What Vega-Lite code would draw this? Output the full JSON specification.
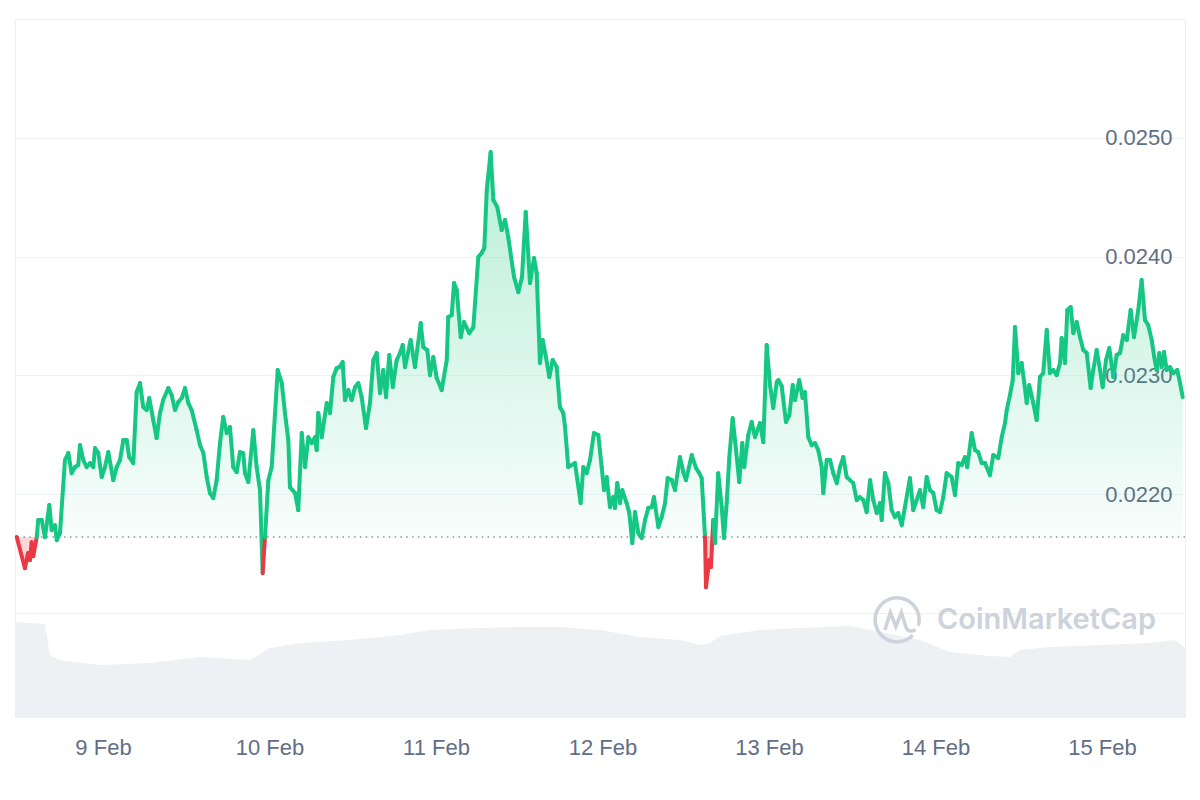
{
  "$schema": "https://vega.github.io/schema/vega-lite/v6.json",
  "width": 1170,
  "height": 698,
  "autosize": "none",
  "padding": {"left": 15, "top": 19, "right": 15, "bottom": 83},
  "background": "white",
  "config": {
    "view": {"stroke": "#eceff3", "strokeWidth": 1},
    "axis": {"labelFont": "Liberation Sans", "labelColor": "#616e85", "labelFontSize": 22, "title": null},
    "axisX": {"format": "%-d %b", "tickCount": {"interval": "day", "step": 1}, "grid": false, "ticks": false, "domain": false, "labelPadding": 20, "labelFlush": false}
  },
  "datasets": {
    "price": [
      {"t":"2024-02-08T11:34","p":0.02164},{"t":"2024-02-08T12:45","p":0.021377},{"t":"2024-02-08T13:11","p":0.021504},{"t":"2024-02-08T13:29","p":0.021445},{"t":"2024-02-08T13:43","p":0.021596},{"t":"2024-02-08T13:57","p":0.021478},{"t":"2024-02-08T14:27","p":0.021638},{"t":"2024-02-08T14:40","p":0.021782},{"t":"2024-02-08T15:10","p":0.021782},{"t":"2024-02-08T15:38","p":0.021638},{"t":"2024-02-08T16:16","p":0.021908},{"t":"2024-02-08T16:36","p":0.021697},{"t":"2024-02-08T17:05","p":0.021739},{"t":"2024-02-08T17:20","p":0.021613},{"t":"2024-02-08T17:48","p":0.021672},{"t":"2024-02-08T18:31","p":0.022287},{"t":"2024-02-08T19:00","p":0.022346},{"t":"2024-02-08T19:29","p":0.022177},{"t":"2024-02-08T19:58","p":0.022228},{"t":"2024-02-08T20:26","p":0.022245},{"t":"2024-02-08T20:41","p":0.022413},{"t":"2024-02-08T21:10","p":0.022287},{"t":"2024-02-08T21:39","p":0.022228},{"t":"2024-02-08T22:08","p":0.022262},{"t":"2024-02-08T22:36","p":0.022228},{"t":"2024-02-08T22:51","p":0.022388},{"t":"2024-02-08T23:19","p":0.022346},{"t":"2024-02-08T23:49","p":0.022144},
      {"t":"2024-02-09T00:17","p":0.022228},{"t":"2024-02-09T00:46","p":0.022354},{"t":"2024-02-09T01:29","p":0.022118},{"t":"2024-02-09T01:58","p":0.022228},{"t":"2024-02-09T02:27","p":0.022287},{"t":"2024-02-09T02:56","p":0.022455},{"t":"2024-02-09T03:25","p":0.022455},{"t":"2024-02-09T03:47","p":0.022312},{"t":"2024-02-09T04:22","p":0.022262},{"t":"2024-02-09T04:51","p":0.022859},{"t":"2024-02-09T05:20","p":0.022935},{"t":"2024-02-09T05:48","p":0.022733},{"t":"2024-02-09T06:18","p":0.022708},{"t":"2024-02-09T06:40","p":0.022809},{"t":"2024-02-09T07:15","p":0.022624},{"t":"2024-02-09T07:44","p":0.022472},{"t":"2024-02-09T08:13","p":0.022683},{"t":"2024-02-09T08:41","p":0.022792},{"t":"2024-02-09T09:25","p":0.022893},{"t":"2024-02-09T09:54","p":0.022834},{"t":"2024-02-09T10:23","p":0.022708},{"t":"2024-02-09T10:51","p":0.022775},{"t":"2024-02-09T11:21","p":0.022809},{"t":"2024-02-09T11:49","p":0.022893},{"t":"2024-02-09T12:18","p":0.022767},{"t":"2024-02-09T12:47","p":0.022708},{"t":"2024-02-09T13:30","p":0.022539},{"t":"2024-02-09T13:59","p":0.022413},{"t":"2024-02-09T14:28","p":0.022346},{"t":"2024-02-09T14:57","p":0.022144},{"t":"2024-02-09T15:25","p":0.022009},{"t":"2024-02-09T15:54","p":0.021967},{"t":"2024-02-09T16:23","p":0.022118},{"t":"2024-02-09T16:52","p":0.02243},{"t":"2024-02-09T17:20","p":0.022649},{"t":"2024-02-09T17:50","p":0.022514},{"t":"2024-02-09T18:18","p":0.022565},{"t":"2024-02-09T18:47","p":0.022228},{"t":"2024-02-09T19:16","p":0.022186},{"t":"2024-02-09T19:45","p":0.022354},{"t":"2024-02-09T20:13","p":0.022346},{"t":"2024-02-09T20:28","p":0.022177},{"t":"2024-02-09T20:57","p":0.022102},{"t":"2024-02-09T21:40","p":0.022539},{"t":"2024-02-09T22:09","p":0.022228},{"t":"2024-02-09T22:38","p":0.022034},{"t":"2024-02-09T23:01","p":0.021335},{"t":"2024-02-09T23:21","p":0.021638},{"t":"2024-02-09T23:50","p":0.022118},
      {"t":"2024-02-10T00:19","p":0.022228},{"t":"2024-02-10T01:11","p":0.023045},{"t":"2024-02-10T01:46","p":0.022935},{"t":"2024-02-10T02:14","p":0.022683},{"t":"2024-02-10T02:43","p":0.022455},{"t":"2024-02-10T02:57","p":0.022059},{"t":"2024-02-10T03:41","p":0.022009},{"t":"2024-02-10T04:09","p":0.021866},{"t":"2024-02-10T04:39","p":0.022514},{"t":"2024-02-10T05:07","p":0.022228},{"t":"2024-02-10T05:36","p":0.02248},{"t":"2024-02-10T06:05","p":0.02243},{"t":"2024-02-10T06:34","p":0.02248},{"t":"2024-02-10T06:48","p":0.022371},{"t":"2024-02-10T07:02","p":0.022683},{"t":"2024-02-10T07:32","p":0.02248},{"t":"2024-02-10T08:15","p":0.022767},{"t":"2024-02-10T08:43","p":0.022683},{"t":"2024-02-10T09:12","p":0.022986},{"t":"2024-02-10T09:41","p":0.023061},{"t":"2024-02-10T10:04","p":0.02307},{"t":"2024-02-10T10:33","p":0.023112},{"t":"2024-02-10T10:53","p":0.022792},{"t":"2024-02-10T11:22","p":0.022876},{"t":"2024-02-10T11:51","p":0.022792},{"t":"2024-02-10T12:20","p":0.022901},{"t":"2024-02-10T12:48","p":0.022935},{"t":"2024-02-10T13:17","p":0.022817},{"t":"2024-02-10T13:55","p":0.022556},{"t":"2024-02-10T14:29","p":0.022767},{"t":"2024-02-10T14:58","p":0.023129},{"t":"2024-02-10T15:27","p":0.023188},{"t":"2024-02-10T15:56","p":0.022851},{"t":"2024-02-10T16:24","p":0.023045},{"t":"2024-02-10T16:48","p":0.022817},{"t":"2024-02-10T17:16","p":0.023171},{"t":"2024-02-10T17:46","p":0.022901},{"t":"2024-02-10T18:20","p":0.023129},{"t":"2024-02-10T18:49","p":0.023188},{"t":"2024-02-10T19:12","p":0.023255},{"t":"2024-02-10T19:32","p":0.02307},{"t":"2024-02-10T20:21","p":0.023297},{"t":"2024-02-10T20:58","p":0.02307},{"t":"2024-02-10T21:48","p":0.02344},{"t":"2024-02-10T22:10","p":0.023238},{"t":"2024-02-10T22:45","p":0.023213},{"t":"2024-02-10T23:08","p":0.023002},{"t":"2024-02-10T23:37","p":0.023154},
      {"t":"2024-02-11T00:06","p":0.022977},{"t":"2024-02-11T00:49","p":0.022876},{"t":"2024-02-11T01:33","p":0.023129},{"t":"2024-02-11T01:46","p":0.023491},{"t":"2024-02-11T02:16","p":0.023508},{"t":"2024-02-11T02:36","p":0.023777},{"t":"2024-02-11T02:59","p":0.023718},{"t":"2024-02-11T03:34","p":0.023322},{"t":"2024-02-11T04:02","p":0.023449},{"t":"2024-02-11T04:48","p":0.023356},{"t":"2024-02-11T05:23","p":0.023407},{"t":"2024-02-11T06:06","p":0.023996},{"t":"2024-02-11T06:35","p":0.02403},{"t":"2024-02-11T06:58","p":0.024072},{"t":"2024-02-11T07:19","p":0.02456},{"t":"2024-02-11T07:53","p":0.02488},{"t":"2024-02-11T08:16","p":0.024476},{"t":"2024-02-11T08:50","p":0.024417},{"t":"2024-02-11T09:28","p":0.024223},{"t":"2024-02-11T09:57","p":0.024308},{"t":"2024-02-11T10:25","p":0.024164},{"t":"2024-02-11T11:15","p":0.023828},{"t":"2024-02-11T11:52","p":0.023701},{"t":"2024-02-11T12:24","p":0.023828},{"t":"2024-02-11T12:56","p":0.024375},{"t":"2024-02-11T13:33","p":0.023777},{"t":"2024-02-11T14:08","p":0.023988},{"t":"2024-02-11T14:31","p":0.023861},{"t":"2024-02-11T14:59","p":0.023104},{"t":"2024-02-11T15:23","p":0.023297},{"t":"2024-02-11T15:51","p":0.023154},{"t":"2024-02-11T16:20","p":0.022986},{"t":"2024-02-11T16:49","p":0.023129},{"t":"2024-02-11T17:24","p":0.02307},{"t":"2024-02-11T17:52","p":0.022733},{"t":"2024-02-11T18:21","p":0.022683},{"t":"2024-02-11T18:36","p":0.022565},{"t":"2024-02-11T19:04","p":0.022228},{"t":"2024-02-11T20:02","p":0.022262},{"t":"2024-02-11T20:51","p":0.021925},{"t":"2024-02-11T21:14","p":0.022228},{"t":"2024-02-11T21:43","p":0.022177},{"t":"2024-02-11T22:12","p":0.022287},{"t":"2024-02-11T22:46","p":0.022514},{"t":"2024-02-11T23:24","p":0.022497},{"t":"2024-02-11T23:53","p":0.022228},
      {"t":"2024-02-12T00:13","p":0.022034},{"t":"2024-02-12T00:36","p":0.022144},{"t":"2024-02-12T01:05","p":0.021891},{"t":"2024-02-12T01:33","p":0.021975},{"t":"2024-02-12T01:48","p":0.021883},{"t":"2024-02-12T02:08","p":0.022093},{"t":"2024-02-12T02:31","p":0.021925},{"t":"2024-02-12T02:51","p":0.022034},{"t":"2024-02-12T03:29","p":0.021925},{"t":"2024-02-12T03:52","p":0.021841},{"t":"2024-02-12T04:18","p":0.021588},{"t":"2024-02-12T04:41","p":0.021849},{"t":"2024-02-12T05:10","p":0.021672},{"t":"2024-02-12T05:39","p":0.02163},{"t":"2024-02-12T06:08","p":0.021782},{"t":"2024-02-12T06:36","p":0.021883},{"t":"2024-02-12T07:06","p":0.021891},{"t":"2024-02-12T07:25","p":0.021975},{"t":"2024-02-12T08:03","p":0.021723},{"t":"2024-02-12T08:32","p":0.021807},{"t":"2024-02-12T09:01","p":0.021925},{"t":"2024-02-12T09:24","p":0.022135},{"t":"2024-02-12T09:59","p":0.022118},{"t":"2024-02-12T10:27","p":0.022034},{"t":"2024-02-12T11:10","p":0.022312},{"t":"2024-02-12T11:39","p":0.022186},{"t":"2024-02-12T12:02","p":0.022118},{"t":"2024-02-12T12:52","p":0.022329},{"t":"2024-02-12T13:29","p":0.022219},{"t":"2024-02-12T13:57","p":0.022177},{"t":"2024-02-12T14:18","p":0.022135},{"t":"2024-02-12T14:47","p":0.021638},{"t":"2024-02-12T14:55","p":0.021217},{"t":"2024-02-12T15:24","p":0.021445},{"t":"2024-02-12T15:38","p":0.021386},{"t":"2024-02-12T15:58","p":0.021782},{"t":"2024-02-12T16:13","p":0.021588},{"t":"2024-02-12T16:41","p":0.022177},{"t":"2024-02-12T17:11","p":0.021891},{"t":"2024-02-12T17:31","p":0.02163},{"t":"2024-02-12T17:54","p":0.021925},{"t":"2024-02-12T18:17","p":0.022312},{"t":"2024-02-12T18:46","p":0.02264},{"t":"2024-02-12T19:15","p":0.022371},{"t":"2024-02-12T19:43","p":0.022102},{"t":"2024-02-12T20:09","p":0.02243},{"t":"2024-02-12T20:26","p":0.022228},{"t":"2024-02-12T21:01","p":0.022497},{"t":"2024-02-12T21:30","p":0.022607},{"t":"2024-02-12T21:59","p":0.02248},{"t":"2024-02-12T22:42","p":0.022598},{"t":"2024-02-12T23:11","p":0.022438},{"t":"2024-02-12T23:40","p":0.023255},
      {"t":"2024-02-13T00:09","p":0.022918},{"t":"2024-02-13T00:37","p":0.022725},{"t":"2024-02-13T01:07","p":0.022944},{"t":"2024-02-13T01:20","p":0.02296},{"t":"2024-02-13T01:50","p":0.02291},{"t":"2024-02-13T02:27","p":0.022607},{"t":"2024-02-13T02:56","p":0.022666},{"t":"2024-02-13T03:25","p":0.022918},{"t":"2024-02-13T03:45","p":0.022792},{"t":"2024-02-13T04:22","p":0.02296},{"t":"2024-02-13T04:51","p":0.022809},{"t":"2024-02-13T05:11","p":0.022859},{"t":"2024-02-13T05:40","p":0.02248},{"t":"2024-02-13T06:09","p":0.022413},{"t":"2024-02-13T06:38","p":0.02243},{"t":"2024-02-13T07:06","p":0.022371},{"t":"2024-02-13T07:36","p":0.022228},{"t":"2024-02-13T07:50","p":0.022009},{"t":"2024-02-13T08:19","p":0.022287},{"t":"2024-02-13T08:48","p":0.022287},{"t":"2024-02-13T09:16","p":0.022177},{"t":"2024-02-13T09:46","p":0.022093},{"t":"2024-02-13T10:14","p":0.022228},{"t":"2024-02-13T10:43","p":0.022312},{"t":"2024-02-13T11:12","p":0.022144},{"t":"2024-02-13T11:41","p":0.022118},{"t":"2024-02-13T12:09","p":0.022093},{"t":"2024-02-13T12:39","p":0.02195},{"t":"2024-02-13T13:07","p":0.021975},{"t":"2024-02-13T13:36","p":0.02195},{"t":"2024-02-13T14:05","p":0.021849},{"t":"2024-02-13T14:34","p":0.022118},{"t":"2024-02-13T15:02","p":0.02195},{"t":"2024-02-13T15:32","p":0.021841},{"t":"2024-02-13T16:00","p":0.021925},{"t":"2024-02-13T16:15","p":0.021782},{"t":"2024-02-13T16:43","p":0.022177},{"t":"2024-02-13T17:12","p":0.022093},{"t":"2024-02-13T17:41","p":0.021866},{"t":"2024-02-13T18:10","p":0.021807},{"t":"2024-02-13T18:38","p":0.021841},{"t":"2024-02-13T19:08","p":0.021739},{"t":"2024-02-13T19:36","p":0.021891},{"t":"2024-02-13T20:19","p":0.022135},{"t":"2024-02-13T20:48","p":0.021866},{"t":"2024-02-13T21:17","p":0.02195},{"t":"2024-02-13T21:46","p":0.022034},{"t":"2024-02-13T22:14","p":0.021891},{"t":"2024-02-13T22:44","p":0.022144},{"t":"2024-02-13T23:12","p":0.022034},{"t":"2024-02-13T23:41","p":0.022009},
      {"t":"2024-02-14T00:10","p":0.021866},{"t":"2024-02-14T00:39","p":0.021849},{"t":"2024-02-14T01:07","p":0.021975},{"t":"2024-02-14T01:37","p":0.022177},{"t":"2024-02-14T02:20","p":0.022144},{"t":"2024-02-14T02:49","p":0.021992},{"t":"2024-02-14T03:17","p":0.022262},{"t":"2024-02-14T03:47","p":0.022245},{"t":"2024-02-14T04:15","p":0.022312},{"t":"2024-02-14T04:35","p":0.022228},{"t":"2024-02-14T05:13","p":0.022514},{"t":"2024-02-14T05:42","p":0.022371},{"t":"2024-02-14T06:10","p":0.022354},{"t":"2024-02-14T06:40","p":0.022262},{"t":"2024-02-14T07:08","p":0.022262},{"t":"2024-02-14T07:51","p":0.02216},{"t":"2024-02-14T08:20","p":0.022329},{"t":"2024-02-14T09:03","p":0.022304},{"t":"2024-02-14T09:33","p":0.02248},{"t":"2024-02-14T10:01","p":0.022598},{"t":"2024-02-14T10:16","p":0.022708},{"t":"2024-02-14T10:44","p":0.022834},{"t":"2024-02-14T11:08","p":0.02296},{"t":"2024-02-14T11:28","p":0.023407},{"t":"2024-02-14T11:56","p":0.023019},{"t":"2024-02-14T12:25","p":0.023104},{"t":"2024-02-14T12:48","p":0.022935},{"t":"2024-02-14T13:09","p":0.022767},{"t":"2024-02-14T13:31","p":0.022918},{"t":"2024-02-14T14:06","p":0.022767},{"t":"2024-02-14T14:35","p":0.022624},{"t":"2024-02-14T15:04","p":0.022986},{"t":"2024-02-14T15:32","p":0.023019},{"t":"2024-02-14T16:02","p":0.023381},{"t":"2024-02-14T16:30","p":0.023019},{"t":"2024-02-14T16:59","p":0.023045},{"t":"2024-02-14T17:28","p":0.023002},{"t":"2024-02-14T17:57","p":0.023104},{"t":"2024-02-14T18:11","p":0.023314},{"t":"2024-02-14T18:40","p":0.023104},{"t":"2024-02-14T19:00","p":0.02355},{"t":"2024-02-14T19:29","p":0.023575},{"t":"2024-02-14T19:52","p":0.023356},{"t":"2024-02-14T20:21","p":0.023449},{"t":"2024-02-14T20:50","p":0.023322},{"t":"2024-02-14T21:18","p":0.023213},{"t":"2024-02-14T21:48","p":0.023188},{"t":"2024-02-14T22:22","p":0.022893},{"t":"2024-02-14T22:45","p":0.023045},{"t":"2024-02-14T23:14","p":0.023213},{"t":"2024-02-14T23:43","p":0.023045},
      {"t":"2024-02-15T00:06","p":0.022901},{"t":"2024-02-15T00:35","p":0.023129},{"t":"2024-02-15T01:03","p":0.02323},{"t":"2024-02-15T01:38","p":0.022986},{"t":"2024-02-15T02:07","p":0.023171},{"t":"2024-02-15T02:36","p":0.023188},{"t":"2024-02-15T03:04","p":0.023339},{"t":"2024-02-15T03:34","p":0.023297},{"t":"2024-02-15T04:08","p":0.02355},{"t":"2024-02-15T04:37","p":0.023322},{"t":"2024-02-15T05:14","p":0.02355},{"t":"2024-02-15T05:43","p":0.023802},{"t":"2024-02-15T06:12","p":0.023466},{"t":"2024-02-15T06:40","p":0.023423},{"t":"2024-02-15T07:10","p":0.023297},{"t":"2024-02-15T07:32","p":0.023154},{"t":"2024-02-15T07:53","p":0.023045},{"t":"2024-02-15T08:16","p":0.023188},{"t":"2024-02-15T08:36","p":0.02307},{"t":"2024-02-15T08:56","p":0.023196},{"t":"2024-02-15T09:20","p":0.023045},{"t":"2024-02-15T09:48","p":0.02307},{"t":"2024-02-15T10:17","p":0.023019},{"t":"2024-02-15T10:51","p":0.023045},{"t":"2024-02-15T11:15","p":0.022935},{"t":"2024-02-15T11:38","p":0.022817}
    ],
    "vol": [
      {"t":"2024-02-08T11:19","v":95},{"t":"2024-02-08T15:38","v":93},{"t":"2024-02-08T16:22","v":62},{"t":"2024-02-08T17:48","v":57},{"t":"2024-02-08T23:34","v":52},{"t":"2024-02-09T06:46","v":54},{"t":"2024-02-09T13:59","v":60},{"t":"2024-02-09T21:11","v":57},{"t":"2024-02-10T00:04","v":69},{"t":"2024-02-10T04:24","v":74},{"t":"2024-02-10T11:36","v":77},{"t":"2024-02-10T18:49","v":82},{"t":"2024-02-10T23:08","v":87},{"t":"2024-02-11T06:20","v":89},{"t":"2024-02-11T12:06","v":90},{"t":"2024-02-11T17:52","v":90},{"t":"2024-02-11T23:38","v":87},{"t":"2024-02-12T05:24","v":80},{"t":"2024-02-12T11:10","v":77},{"t":"2024-02-12T14:03","v":72},{"t":"2024-02-12T15:30","v":74},{"t":"2024-02-12T16:56","v":81},{"t":"2024-02-12T22:42","v":87},{"t":"2024-02-13T04:28","v":89},{"t":"2024-02-13T11:41","v":91},{"t":"2024-02-13T16:00","v":85},{"t":"2024-02-13T21:46","v":77},{"t":"2024-02-14T02:05","v":65},{"t":"2024-02-14T07:51","v":61},{"t":"2024-02-14T10:44","v":60},{"t":"2024-02-14T12:11","v":67},{"t":"2024-02-14T16:30","v":70},{"t":"2024-02-14T23:43","v":72},{"t":"2024-02-15T06:55","v":74},{"t":"2024-02-15T10:31","v":77},{"t":"2024-02-15T11:58","v":69}
    ]
  },
  "layer": [
    {
      "data": {"name": "vol"},
      "mark": {"type": "area", "color": "#eef0f4", "interpolate": "linear"},
      "encoding": {
        "x": {"field": "t", "type": "temporal", "title": null, "scale": {"domain": [{"year": 2024, "month": 2, "date": 8, "hours": 11, "minutes": 19}, {"year": 2024, "month": 2, "date": 15, "hours": 11, "minutes": 58}]}},
        "y": {"field": "v", "type": "quantitative", "scale": {"domain": [0, 100], "range": [698, 598]}, "axis": null}
      }
    },
    {
      "data": {"name": "price"},
      "mark": {
        "type": "area",
        "fill": {"gradient": "linear", "x1": 0, "y1": 0, "x2": 0, "y2": 1, "stops": [{"offset": 0, "color": "rgba(22,199,132,0.30)"}, {"offset": 1, "color": "rgba(22,199,132,0.03)"}]}
      },
      "encoding": {
        "x": {"field": "t", "type": "temporal", "title": null},
        "y": {"field": "p", "type": "quantitative", "scale": {"domain": [0.02164, 0.026], "range": [517.9, 0], "clamp": true, "zero": false, "nice": false}, "axis": null},
        "y2": {"datum": 0.02164}
      }
    },
    {
      "data": {"name": "price"},
      "mark": {"type": "area", "color": "#ea3943", "opacity": 0.2},
      "encoding": {
        "x": {"field": "t", "type": "temporal", "title": null},
        "y": {"field": "p", "type": "quantitative", "scale": {"domain": [0.020124, 0.02164], "range": [698, 517.9], "clamp": true, "zero": false, "nice": false}, "axis": null},
        "y2": {"datum": 0.02164}
      }
    },
    {
      "data": {"values": [{}]},
      "mark": {"type": "rule", "color": "#8f959e", "strokeWidth": 1.5, "strokeDash": [1.5, 4.3]},
      "encoding": {
        "y": {"datum": 0.02164, "type": "quantitative", "scale": {"domain": [0.020124, 0.026], "zero": false, "nice": false}, "axis": null}
      }
    },
    {
      "data": {"name": "price"},
      "transform": [
        {"window": [{"op": "lead", "field": "t", "as": "t2"}, {"op": "lead", "field": "p", "as": "p2"}], "sort": [{"field": "t", "order": "ascending"}]},
        {"filter": "datum.t2 != null"}
      ],
      "mark": {"type": "rule", "strokeWidth": 4, "strokeCap": "round"},
      "encoding": {
        "x": {"field": "t", "type": "temporal", "title": null},
        "x2": {"field": "t2"},
        "y": {
          "field": "p", "type": "quantitative",
          "scale": {"domain": [0.020124, 0.026], "zero": false, "nice": false},
          "axis": {
            "orient": "right", "values": [0.021, 0.022, 0.023, 0.024, 0.025, 0.026],
            "labelExpr": "datum.value > 0.0215 && datum.value < 0.0255 ? format(datum.value, '.4f') : ''",
            "grid": true, "gridColor": "#eff2f5", "ticks": false, "tickSize": 0, "domain": false, "zindex": 0,
            "labelAlign": "right", "labelPadding": -13, "labelBaseline": "middle", "labelOffset": 0, "title": null
          }
        },
        "y2": {"field": "p2"},
        "color": {"condition": {"test": "datum.p + datum.p2 < 0.04328", "value": "#ea3943"}, "value": "#16c784"}
      }
    },
    {
      "data": {"values": [{}]},
      "mark": {"type": "text", "text": "CoinMarketCap", "align": "left", "baseline": "middle", "font": "Inter", "fontSize": 29, "fontWeight": 600, "color": "#cdd2db"},
      "encoding": {
        "x": {"datum": {"year": 2024, "month": 2, "date": 14, "hours": 0, "minutes": 13}, "type": "temporal", "title": null},
        "y": {"datum": 0.02094, "type": "quantitative", "scale": {"domain": [0.020124, 0.026], "zero": false, "nice": false}, "axis": null}
      }
    },
    {
      "data": {"values": [{}]},
      "mark": {"type": "point", "shape": "M0.72,0.69A1,1,0,1,1,0.97,0.26M-0.55,0.45L-0.3,-0.35L-0.05,0.3L0.2,-0.35L0.4,0.3Q0.5,0.6,0.85,0.45", "size": 1936, "filled": false, "stroke": "#cdd2db", "strokeWidth": 3.5, "opacity": 1},
      "encoding": {
        "x": {"datum": {"year": 2024, "month": 2, "date": 13, "hours": 18, "minutes": 27}, "type": "temporal", "title": null},
        "y": {"datum": 0.02094, "type": "quantitative", "scale": {"domain": [0.020124, 0.026], "zero": false, "nice": false}, "axis": null}
      }
    }
  ],
  "resolve": {"scale": {"y": "independent"}}
}
